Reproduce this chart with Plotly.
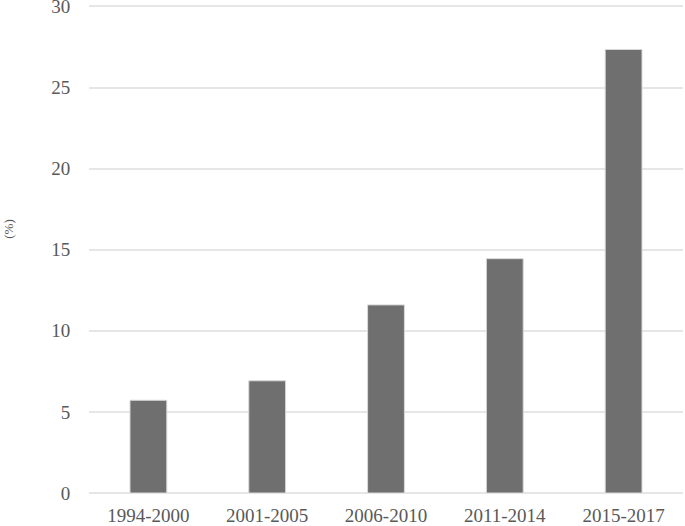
import plotly.graph_objects as go

# Share by period (%)
periods = ['1994-2000', '2001-2005', '2006-2010', '2011-2014', '2015-2017']
shares = [5.72, 6.92, 11.6, 14.45, 27.35]

font_family = 'Liberation Serif, Times New Roman, serif'

trace = go.Bar(x=periods, y=shares, marker=dict(color='#6f6f6f', line=dict(color='#d9d9d9', width=1)))

layout = go.Layout(
    width=685, height=526,
    margin=dict(l=89, r=2, t=0, b=33),
    plot_bgcolor='white', paper_bgcolor='white',
    bargap=0.69,
    showlegend=False,
    font=dict(family=font_family, size=19, color='#595959'),
    xaxis=dict(showgrid=False, showline=False, automargin=False,
               ticks='outside', ticklen=5, tickcolor='rgba(0,0,0,0)', tickfont=dict(size=19)),
    yaxis=dict(range=[0, 30.4], tickvals=[0, 5, 10, 15, 20, 25, 30], automargin=False,
               ticklabeloverflow='allow',
               showgrid=True, gridcolor='#e6e6e6', gridwidth=2,
               zeroline=True, zerolinecolor='#e6e6e6', zerolinewidth=2,
               ticks='outside', ticklen=14, tickcolor='rgba(0,0,0,0)', tickfont=dict(size=19)),
    annotations=[dict(text='(%)', xref='paper', yref='paper', x=0, y=0.536, xshift=-80,
                      xanchor='center', yanchor='middle', textangle=-90, showarrow=False,
                      font=dict(size=13, color='#595959'))],
)

fig = go.Figure(data=[trace], layout=layout)
# remove the default page margin so the chart sits at the window's corner
fig.write_html('out.html', config={'displayModeBar': False},
               post_script="document.body.style.margin='0';")
